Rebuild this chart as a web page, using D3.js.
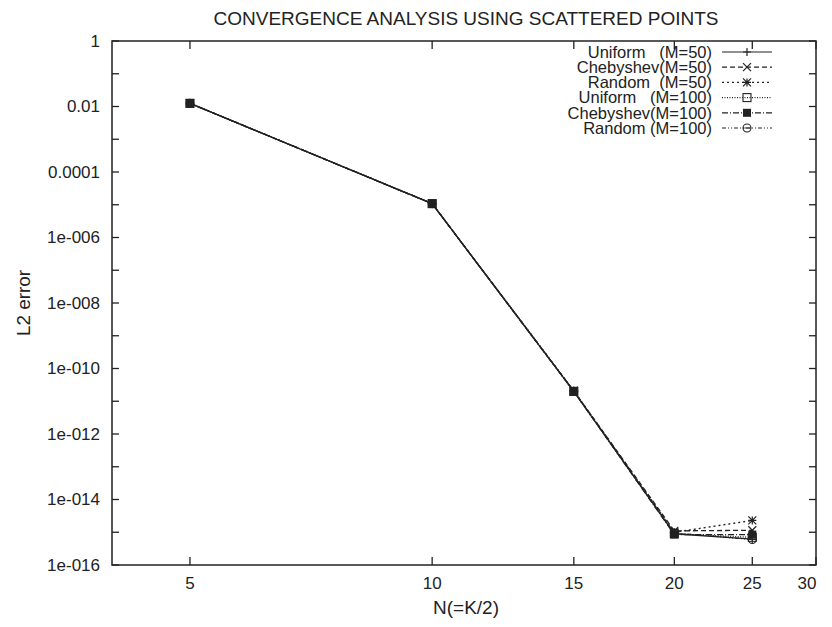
<!DOCTYPE html>
<html><head><meta charset="utf-8">
<script src="https://cdn.jsdelivr.net/npm/d3@7"></script>
<style>
body{margin:0;background:#fff;}
text{font-family:"Liberation Sans",Arial,sans-serif;fill:#222;}
</style></head>
<body><svg id="c" width="832" height="627"></svg>
<script>
const xValues = [5, 10, 15, 20, 25];
const uniform50 = [1.25e-2, 1.08e-5, 2.0e-11, 9.0e-16, 6.2e-16];
const cheb50 = [1.25e-2, 1.08e-5, 2.05e-11, 1.1e-15, 1.15e-15];
const random50 = [1.25e-2, 1.08e-5, 2.1e-11, 1.0e-15, 2.3e-15];
const uniform100 = [1.25e-2, 1.08e-5, 2.0e-11, 9.0e-16, 7.0e-16];
const cheb100 = [1.25e-2, 1.08e-5, 2.0e-11, 8.5e-16, 8.5e-16];
const random100 = [1.25e-2, 1.08e-5, 2.0e-11, 9.5e-16, 6.0e-16];
const seriesNames = ["Uniform   (M=50)", "Chebyshev(M=50)", "Random  (M=50)", "Uniform   (M=100)", "Chebyshev(M=100)", "Random (M=100)"];
const xTicks = [5, 10, 15, 20, 25, 30];
const yTickValues = [1, 1e-2, 1e-4, 1e-6, 1e-8, 1e-10, 1e-12, 1e-14, 1e-16];
const yTickLabels = ["1", "0.01", "0.0001", "1e-006", "1e-008", "1e-010", "1e-012", "1e-014", "1e-016"];

const L = 112, R = 816, T = 41, B = 565;
const svg = d3.select("#c");
const x = d3.scaleLog().domain([4, 30]).range([L, R]);
const y = d3.scaleLog().domain([1e-16, 1]).range([B, T]);
const ink = "#222";

const series = [
  {name: seriesNames[0], vals: uniform50, dash: null, marker: "plus"},
  {name: seriesNames[1], vals: cheb50, dash: "5,3", marker: "cross"},
  {name: seriesNames[2], vals: random50, dash: "2,3", marker: "star"},
  {name: seriesNames[3], vals: uniform100, dash: "1,1.5", marker: "osquare"},
  {name: seriesNames[4], vals: cheb100, dash: "6,2,1,2", marker: "fsquare"},
  {name: seriesNames[5], vals: random100, dash: "4,2,1,2,1,2", marker: "ocircle"}
];

// frame
svg.append("rect").attr("x", L).attr("y", T).attr("width", R - L).attr("height", B - T)
  .attr("fill", "none").attr("stroke", ink).attr("stroke-width", 1.5);

// y ticks (every decade) on both sides
const decades = d3.range(0, 17).map(i => Math.pow(10, -i));
decades.forEach(v => {
  const yy = y(v);
  svg.append("line").attr("x1", L).attr("x2", L + 7).attr("y1", yy).attr("y2", yy).attr("stroke", ink).attr("stroke-width", 1.3);
  svg.append("line").attr("x1", R).attr("x2", R - 7).attr("y1", yy).attr("y2", yy).attr("stroke", ink).attr("stroke-width", 1.3);
});
yTickValues.forEach((v, i) => {
  svg.append("text").attr("x", L - 12).attr("y", y(v)).attr("dy", "0.35em")
    .attr("text-anchor", "end").attr("font-size", 17).text(yTickLabels[i]);
});

// x ticks
xTicks.forEach(v => {
  const xx = x(v);
  svg.append("line").attr("x1", xx).attr("x2", xx).attr("y1", B).attr("y2", B - 8).attr("stroke", ink).attr("stroke-width", 1.3);
  svg.append("line").attr("x1", xx).attr("x2", xx).attr("y1", T).attr("y2", T + 8).attr("stroke", ink).attr("stroke-width", 1.3);
  svg.append("text").attr("x", Math.min(xx, R - 9)).attr("y", B + 18).attr("dy", "0.35em")
    .attr("text-anchor", "middle").attr("font-size", 17).text(v);
});

// titles
svg.append("text").attr("x", 466).attr("y", 18).attr("dy", "0.35em").attr("text-anchor", "middle")
  .attr("font-size", 19).text("CONVERGENCE ANALYSIS USING SCATTERED POINTS");
svg.append("text").attr("x", 466).attr("y", 607).attr("dy", "0.35em").attr("text-anchor", "middle")
  .attr("font-size", 19).text("N(=K/2)");
svg.append("text").attr("transform", "translate(23,303) rotate(-90)").attr("dy", "0.35em")
  .attr("text-anchor", "middle").attr("font-size", 19)
  .attr("textLength", 66).attr("lengthAdjust", "spacingAndGlyphs").text("L2 error");

function drawMarker(g, type, cx, cy) {
  const s = 4;
  if (type === "plus") {
    g.append("path").attr("d", `M${cx - s},${cy}H${cx + s}M${cx},${cy - s}V${cy + s}`).attr("stroke", ink).attr("stroke-width", 1.2);
  } else if (type === "cross") {
    g.append("path").attr("d", `M${cx - s},${cy - s}L${cx + s},${cy + s}M${cx - s},${cy + s}L${cx + s},${cy - s}`).attr("stroke", ink).attr("stroke-width", 1.2);
  } else if (type === "star") {
    g.append("path").attr("d", `M${cx - s},${cy - s}L${cx + s},${cy + s}M${cx - s},${cy + s}L${cx + s},${cy - s}M${cx - s},${cy}H${cx + s}M${cx},${cy - s}V${cy + s}`).attr("stroke", ink).attr("stroke-width", 1.2);
  } else if (type === "osquare") {
    g.append("rect").attr("x", cx - s).attr("y", cy - s).attr("width", 2 * s).attr("height", 2 * s).attr("fill", "none").attr("stroke", ink).attr("stroke-width", 1.1);
  } else if (type === "fsquare") {
    g.append("rect").attr("x", cx - s).attr("y", cy - s).attr("width", 2 * s).attr("height", 2 * s).attr("fill", ink);
  } else if (type === "ocircle") {
    g.append("circle").attr("cx", cx).attr("cy", cy).attr("r", s).attr("fill", "none").attr("stroke", ink).attr("stroke-width", 1.1);
    g.append("line").attr("x1", cx - s).attr("x2", cx + s).attr("y1", cy).attr("y2", cy).attr("stroke", ink).attr("stroke-width", 0.8);
  }
}

const line = d3.line().x(d => x(d[0])).y(d => y(d[1]));
const plot = svg.append("g");
series.forEach(s => {
  const pts = xValues.map((xv, i) => [xv, s.vals[i]]);
  plot.append("path").attr("d", line(pts)).attr("fill", "none").attr("stroke", ink)
    .attr("stroke-width", 1.3).attr("stroke-dasharray", s.dash);
  pts.forEach(p => drawMarker(plot, s.marker, x(p[0]), y(p[1])));
});

// legend
const lg = svg.append("g");
series.forEach((s, i) => {
  const yy = 52 + i * 15.2;
  lg.append("text").attr("x", 712).attr("y", yy).attr("dy", "0.35em").attr("text-anchor", "end")
    .attr("font-size", 16.5).attr("xml:space", "preserve").style("white-space", "pre").text(s.name);
  lg.append("line").attr("x1", 722).attr("x2", 772).attr("y1", yy).attr("y2", yy).attr("stroke", ink)
    .attr("stroke-width", 1.2).attr("stroke-dasharray", s.dash);
  drawMarker(lg, s.marker, 747, yy);
});
</script></body></html>
